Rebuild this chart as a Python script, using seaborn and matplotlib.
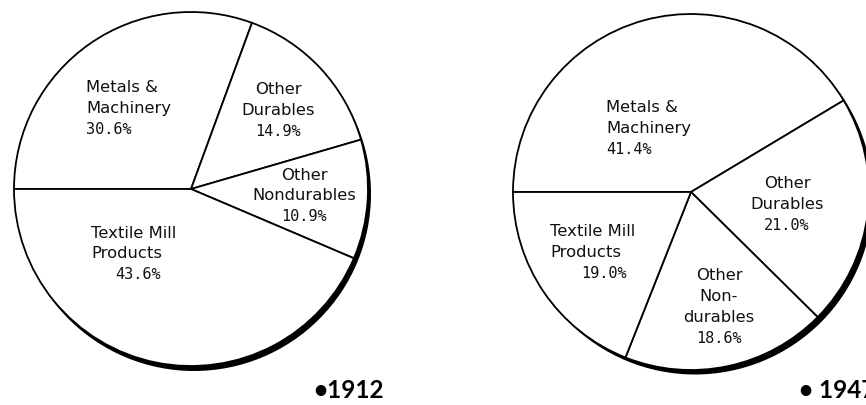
import matplotlib
matplotlib.use("Agg")
import matplotlib.pyplot as plt
import seaborn as sns

# ---- data ----
categories_1912 = ["Metals &\nMachinery", "Other\nDurables", "Other\nNondurables", "Textile Mill\nProducts"]
shares_1912 = [30.6, 14.9, 10.9, 43.6]
categories_1947 = ["Metals &\nMachinery", "Other\nDurables", "Other\nNon-\ndurables", "Textile Mill\nProducts"]
shares_1947 = [41.4, 21.0, 18.6, 19.0]
years = ["1912", "1947"]

sns.set_theme(style="white")
plt.rcParams["font.family"] = ["DejaVu Sans"]

W, H = 866, 405
fig = plt.figure(figsize=(W / 100, H / 100), dpi=100)
ax = fig.add_axes([0, 0, 1, 1])

def Y(y):
    return H - y

# layout (pixels, image coordinates)
pies = [
    dict(vals=shares_1912, names=categories_1912, cx=191, cy=189, r=177, sh=(3.0, -5.0),
         lab=[(86, 88, "left", 86, "left"),
              (278, 90, "center", 278, "center"),
              (304, 175, "center", 304, "center"),
              (91, 233, "left", 115, "left")],
         year=years[0], yx=313, yy=391, ytxt="•"),
    dict(vals=shares_1947, names=categories_1947, cx=691, cy=192, r=178, sh=(4.0, -4.5),
         lab=[(606, 108, "left", 606, "left"),
              (787, 184, "center", 787, "center"),
              (719, 276, "center", 719, "center"),
              (550, 232, "left", 581, "left")],
         year=years[1], yx=799, yy=391, ytxt="• "),
]

LS = 20.7  # line spacing in px
for p in pies:
    cx, cy, r = p["cx"], Y(p["cy"]), p["r"]
    # drop shadow
    ax.pie([sum(p["vals"])], radius=r, center=(cx + p["sh"][0], cy + p["sh"][1]),
           colors=["black"], wedgeprops=dict(linewidth=0), startangle=180)
    ax.pie(p["vals"], radius=r, center=(cx, cy), startangle=180, counterclock=False,
           colors=["white"] * len(p["vals"]),
           wedgeprops=dict(edgecolor="black", linewidth=1.3))
    for name, val, (nx, ny, ha, px, pha) in zip(p["names"], p["vals"], p["lab"]):
        lines = name.split("\n")
        for i, ln in enumerate(lines):
            ax.text(nx, Y(ny + i * LS), ln, ha=ha, va="center", fontsize=11.8,
                    color="#111111")
        ax.text(px, Y(ny + len(lines) * LS), f"{val:.1f}%", ha=pha, va="center",
                fontsize=11, family="DejaVu Sans Mono", color="#111111")
    ax.text(p["yx"], Y(p["yy"]), p["ytxt"] + p["year"], ha="left", va="center",
            fontsize=17.5, family="Lato", fontweight="bold", color="black")

ax.set_xlim(0, W)
ax.set_ylim(0, H)
ax.set_aspect("equal")
ax.axis("off")
fig.savefig("out.png", dpi=100, facecolor="white")
